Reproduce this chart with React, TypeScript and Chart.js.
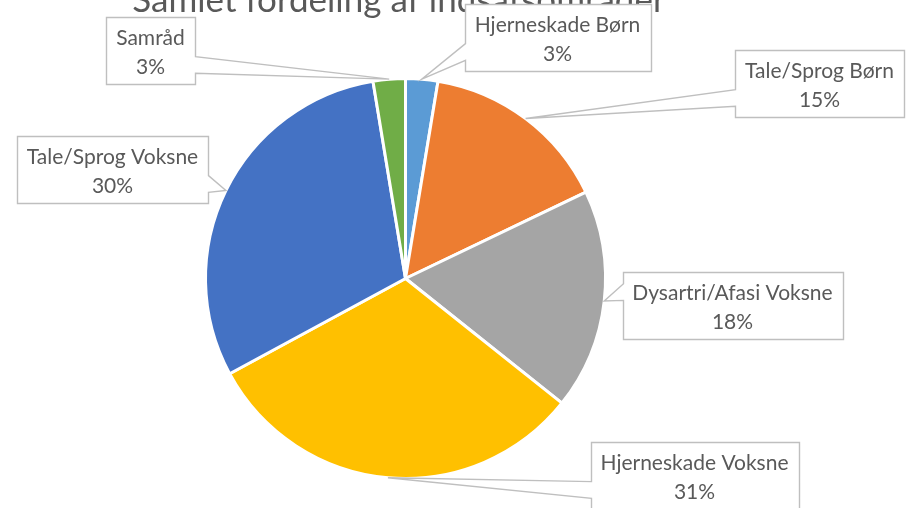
import { useEffect, useRef } from "react";
import { Chart, registerables } from "chart.js";

Chart.register(...registerables);

const TITLE = "Samlet fordeling af indsatsområder";
const categories = [
  "Hjerneskade Børn",
  "Tale/Sprog Børn",
  "Dysartri/Afasi Voksne",
  "Hjerneskade Voksne",
  "Tale/Sprog Voksne",
  "Samråd",
];
const shares = [2.6, 15.3, 17.8, 31.4, 30.3, 2.6];
const sliceColors = ["#5B9BD5", "#ED7D31", "#A5A5A5", "#FFC000", "#4472C4", "#70AD47"];

// callout box centres, offset (px) from the pie centre
const calloutOffsets: [number, number][] = [
  [152, -241],
  [414, -195],
  [327, 27],
  [289, 197],
  [-293, -109],
  [-255, -228],
];

const FONT = "Lato, 'Open Sans', sans-serif";
const TEXT_COLOR = "#595959";
const BORDER_COLOR = "#BFBFBF";
const BOX_H = 67;
const PAD_X = 10;

function drawCallout(
  ctx: CanvasRenderingContext2D,
  l: number,
  t: number,
  w: number,
  h: number,
  tx: number,
  ty: number
) {
  const hc = l + w / 2;
  const vc = t + h / 2;
  const dxPos = tx - hc;
  const dyPos = ty - vc;
  const r = l + w;
  const b = t + h;
  const inside = Math.abs(dxPos) <= w / 2 && Math.abs(dyPos) <= h / 2;
  const dq = (dxPos * h) / w;
  const dz = Math.abs(dyPos) - Math.abs(dq);
  const x1 = l + (w * (dxPos > 0 ? 7 : 2)) / 12;
  const x2 = l + (w * (dxPos > 0 ? 10 : 5)) / 12;
  const y1 = t + (h * (dyPos > 0 ? 7 : 2)) / 12;
  const y2 = t + (h * (dyPos > 0 ? 10 : 5)) / 12;
  ctx.beginPath();
  ctx.moveTo(l, t);
  if (!inside && dz > 0 && dyPos < 0) {
    ctx.lineTo(x1, t);
    ctx.lineTo(tx, ty);
    ctx.lineTo(x2, t);
  }
  ctx.lineTo(r, t);
  if (!inside && dz <= 0 && dxPos > 0) {
    ctx.lineTo(r, y1);
    ctx.lineTo(tx, ty);
    ctx.lineTo(r, y2);
  }
  ctx.lineTo(r, b);
  if (!inside && dz > 0 && dyPos > 0) {
    ctx.lineTo(x2, b);
    ctx.lineTo(tx, ty);
    ctx.lineTo(x1, b);
  }
  ctx.lineTo(l, b);
  if (!inside && dz <= 0 && dxPos < 0) {
    ctx.lineTo(l, y2);
    ctx.lineTo(tx, ty);
    ctx.lineTo(l, y1);
  }
  ctx.closePath();
  ctx.fillStyle = "#FFFFFF";
  ctx.fill();
  ctx.strokeStyle = BORDER_COLOR;
  ctx.lineWidth = 1.4;
  ctx.stroke();
}

const calloutPlugin = {
  id: "excelCallouts",
  beforeDraw(chart: any) {
    const ctx: CanvasRenderingContext2D = chart.ctx;
    ctx.save();
    ctx.fillStyle = "#FFFFFF";
    ctx.fillRect(0, 0, chart.width, chart.height);
    ctx.font = `35px ${FONT}`;
    ctx.fillStyle = TEXT_COLOR;
    ctx.textAlign = "center";
    ctx.textBaseline = "alphabetic";
    ctx.fillText(TITLE, 399, 12);
    ctx.restore();
  },
  afterDatasetsDraw(chart: any) {
    const ctx: CanvasRenderingContext2D = chart.ctx;
    const meta = chart.getDatasetMeta(0);
    const values: number[] = chart.data.datasets[0].data;
    const total = values.reduce((a, v) => a + v, 0);
    ctx.save();
    ctx.font = `21px ${FONT}`;
    meta.data.forEach((arc: any, i: number) => {
      const p = arc.getProps(["x", "y", "startAngle", "endAngle", "outerRadius"], true);
      const mid = (p.startAngle + p.endAngle) / 2;
      const tx = p.x + p.outerRadius * Math.cos(mid);
      const ty = p.y + p.outerRadius * Math.sin(mid);
      const lines = [
        String(chart.data.labels[i]),
        `${Math.round((values[i] / total) * 100)}%`,
      ];
      const tw = Math.max(...lines.map((s) => ctx.measureText(s).width));
      const w = Math.round(tw + PAD_X * 2);
      const cx = p.x + calloutOffsets[i][0];
      const cy = p.y + calloutOffsets[i][1];
      const l = Math.round(cx - w / 2) + 0.5;
      const t = Math.round(cy - BOX_H / 2) + 0.5;
      drawCallout(ctx, l, t, w, BOX_H, tx, ty);
      ctx.fillStyle = TEXT_COLOR;
      ctx.textAlign = "center";
      ctx.textBaseline = "alphabetic";
      ctx.fillText(lines[0], cx, cy - 5.5);
      ctx.fillText(lines[1], cx, cy + 23.5);
    });
    ctx.restore();
  },
};

export default function App() {
  const ref = useRef<HTMLCanvasElement | null>(null);
  useEffect(() => {
    document.body.style.margin = "0";
    if (!ref.current) return;
    const chart = new Chart(ref.current, {
      type: "pie",
      data: {
        labels: categories,
        datasets: [
          {
            data: shares,
            backgroundColor: sliceColors,
            borderColor: "#FFFFFF",
            borderWidth: 3,
          },
        ],
      },
      options: {
        responsive: false,
        animation: false,
        layout: { padding: { left: 204, right: 302, top: 77, bottom: 28 } },
        plugins: {
          legend: { display: false },
          tooltip: { enabled: false },
          title: { display: false },
        },
      },
      plugins: [calloutPlugin],
    });
    return () => chart.destroy();
  }, []);
  return (
    <div style={{ width: 909, height: 508 }}>
      <canvas ref={ref} width={909} height={508} style={{ display: "block" }} />
    </div>
  );
}
